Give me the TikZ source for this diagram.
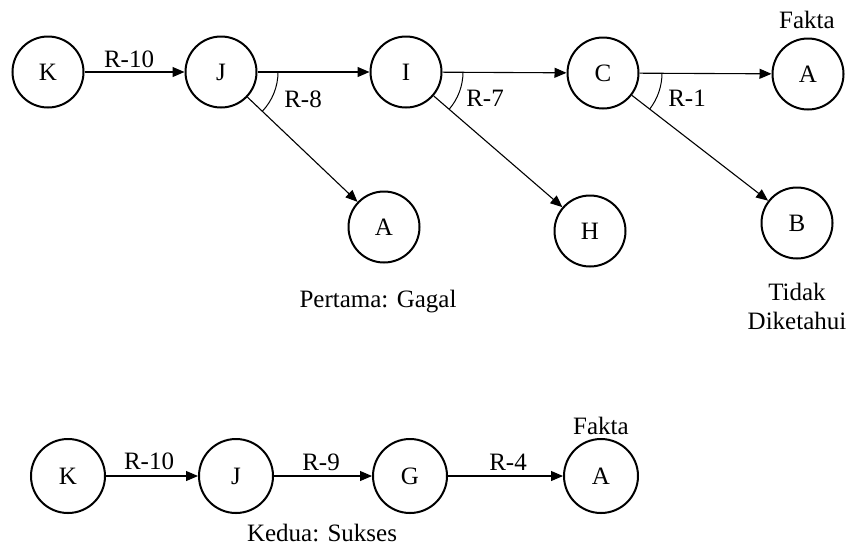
\documentclass[tikz,border=0pt]{standalone}
\usepackage{fontspec}
\setmainfont{Liberation Serif}
\usetikzlibrary{arrows.meta}
\begin{document}
\begin{tikzpicture}[x=1pt,y=-1pt,
  every node/.style={font=\fontsize{25}{29}\selectfont},
  state/.style={circle,draw,line width=2pt,minimum size=71pt,inner sep=0pt},
  bigstate/.style={state,minimum size=74pt},
  arr/.style={line width=1.1pt,-{Triangle[length=12pt,width=10pt]}},
  anglemark/.style={line width=1pt},
  lbl/.style={inner sep=0pt}]
\useasboundingbox (0,0) rectangle (856,547);

% first attempt: backward chaining fails
\node[state] (k1) at (48,72) {K};
\node[state] (j1) at (221,72) {J};
\node[state] (i1) at (406,72) {I};
\node[state] (c1) at (603,73) {C};
\node[state] (a1) at (808,74) {A};
\node[state] (a2) at (384,227) {A};
\node[state] (h1) at (590,231) {H};
\node[state] (b1) at (797,223) {B};

\draw[arr] (k1) -- (j1);
\draw[arr] (j1) -- (i1);
\draw[arr] (i1) -- (c1);
\draw[arr] (c1) -- (a1);
\draw[arr] (j1) -- (a2);
\draw[arr] (i1) -- (h1);
\draw[arr] (c1) -- (b1);

% angle marks between the two branches of each rule
\draw[anglemark] (j1.center) ++(0:57) arc[start angle=0,end angle=43.6,radius=57];
\draw[anglemark] (i1.center) ++(0:57) arc[start angle=0,end angle=40.8,radius=57];
\draw[anglemark] (c1.center) ++(0:59) arc[start angle=0,end angle=37.5,radius=59];

\node[lbl] (r10a) at (129,59) {R-10};
\node[lbl] (r8) at (303,99) {R-8};
\node[lbl] (r7) at (485,98) {R-7};
\node[lbl] (r1) at (687,98) {R-1};
\node[lbl] (fakta1) at (807,20) {Fakta};
\node[lbl] (gagal) at (378,302) {Pertama: Gagal};
\node[lbl,align=center] (tidak) at (797,306) {Tidak\\Diketahui};

% second attempt: backward chaining succeeds
\node[bigstate] (k2) at (68,476) {K};
\node[bigstate] (j2) at (236,476) {J};
\node[bigstate] (g2) at (410,476) {G};
\node[bigstate] (a3) at (601,476) {A};

\draw[arr] (k2) -- (j2);
\draw[arr] (j2) -- (g2);
\draw[arr] (g2) -- (a3);

\node[lbl] (r10b) at (149,461) {R-10};
\node[lbl] (r9) at (321,462) {R-9};
\node[lbl] (r4) at (508,462) {R-4};
\node[lbl] (fakta2) at (601,426) {Fakta};
\node[lbl] (sukses) at (322,533) {Kedua: Sukses};
\end{tikzpicture}
\end{document}
